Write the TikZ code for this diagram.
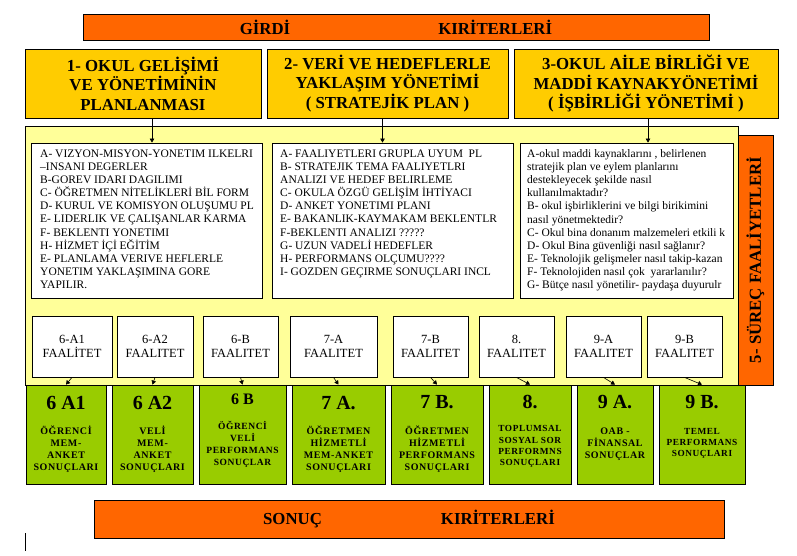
\documentclass[tikz,border=0pt]{standalone}
\usepackage{fontspec}
\setmainfont{Liberation Serif}
\newfontfamily\krserif{Liberation Serif}
\newfontfamily\widebf[LetterSpace=6]{Liberation Serif}
\usetikzlibrary{
  positioning,
  arrows.meta
}
\definecolor{krOrange}{HTML}{FF6600}
\definecolor{krGold}{HTML}{FFCC00}
\definecolor{krPale}{HTML}{FFFF99}
\definecolor{krGreen}{HTML}{99CC00}

\begin{document}
\begin{tikzpicture}[x=1pt, y=-1pt,
  every node/.style={inner sep=0pt, align=center},
  band/.style={
    rectangle, draw=black, fill=krOrange, line width=0.8pt,
    font=\krserif\fontsize{16.8}{19}\selectfont\bfseries
  },
  topic/.style={
    rectangle, draw=black, fill=krGold, line width=0.8pt,
    minimum height=69pt, font=\krserif\fontsize{16.8}{19.5}\selectfont\bfseries
  },
  listbox/.style={
    rectangle, draw=black, fill=white, line width=0.8pt,
    minimum height=155pt
  },
  listtext/.style={anchor=north west, align=left, font=\krserif\fontsize{11.5}{13.15}\selectfont},
  activity/.style={
    rectangle, draw=black, fill=white, line width=0.8pt,
    minimum height=61pt, font=\krserif\fontsize{12.5}{13.5}\selectfont
  },
  result/.style={
    rectangle, draw=black, fill=krGreen, line width=0.8pt,
    minimum height=99pt
  },
  restitle/.style={font=\krserif\fontsize{20}{22}\selectfont\bfseries},
  resnote/.style={font=\widebf\fontsize{10}{12}\selectfont\bfseries},
  arrow/.style={-{Triangle[length=4pt, width=4.5pt]}, line width=0.6pt}
]
 \useasboundingbox (0,0) rectangle (797,555);

 % Input criteria
 \node[band, minimum width=626pt, minimum height=26pt] (girdi) at (396,27)
   {GİRDİ\hspace{148pt}KIRİTERLERİ};

 \node[topic, minimum width=236pt] (t1) at (143,83.5)
   {1- OKUL GELİŞİMİ\\VE YÖNETİMİNİN\\PLANLANMASI};
 \node[topic, minimum width=241pt] (t2) at (387.5,83.5)
   {2- VERİ VE HEDEFLERLE\\YAKLAŞIM YÖNETİMİ\\( STRATEJİK PLAN )};
 \node[topic, minimum width=264pt] (t3) at (646,83.5)
   {3-OKUL AİLE BİRLİĞİ VE\\MADDİ KAYNAKYÖNETİMİ\\( İŞBİRLİĞİ YÖNETİMİ )};

 % Process panel
 \node[rectangle, draw=black, fill=krPale, line width=0.8pt,
   minimum width=713pt, minimum height=259pt] (panel) at (381.5,255.5) {};
 \node[band, rotate=90, minimum width=250pt, minimum height=35pt] (surec) at (755.5,260)
   {5- SÜREÇ FAALİYETLERİ};

 \node[listbox, minimum width=231pt] (lbA) at (146.5,220.5) {};
 \node[listbox, minimum width=241pt] (lbB) at (392.5,220.5) {};
 \node[listbox, minimum width=213pt] (lbC) at (626.5,220.5) {};

 \node[listtext] (ltA) at (40,149.4) {A- VIZYON-MISYON-YONETIM ILKELRI\\
   –INSANI DEGERLER\\B-GOREV IDARI DAGILIMI\\C- ÖĞRETMEN NİTELİKLERİ BİL FORM\\
   D- KURUL VE KOMISYON OLUŞUMU PL\\E- LIDERLIK VE ÇALIŞANLAR KARMA\\
   F- BEKLENTI YONETIMI\\H- HİZMET İÇİ EĞİTİM\\E- PLANLAMA VERIVE HEFLERLE\\
   YONETIM YAKLAŞIMINA GORE\\YAPILIR.};
 \node[listtext] (ltB) at (280,149.4) {A- FAALIYETLERI GRUPLA UYUM~ PL\\
   B- STRATEJIK TEMA FAALIYETLRI\\ANALIZI VE HEDEF BELIRLEME\\
   C- OKULA ÖZGÜ GELİŞİM İHTİYACI\\D- ANKET YONETIMI PLANI\\
   E- BAKANLIK-KAYMAKAM BEKLENTLR\\F-BEKLENTI ANALIZI ?????\\
   G- UZUN VADELİ HEDEFLER\\H- PERFORMANS OLÇUMU????\\
   I- GOZDEN GEÇIRME SONUÇLARI INCL};
 \node[listtext] (ltC) at (527,149.1) {A-okul maddi kaynaklarını , belirlenen\\
   stratejik plan ve eylem planlarını\\destekleyecek şekilde nasıl\\
   kullanılmaktadır?\\B- okul işbirliklerini ve bilgi birikimini\\
   nasıl yönetmektedir?\\C- Okul bina donanım malzemeleri etkili k\\
   D- Okul Bina güvenliği nasıl sağlanır?\\E- Teknolojik gelişmeler nasıl takip-kazan\\
   F- Teknolojiden nasıl çok~ yararlanılır?\\G- Bütçe nasıl yönetilir- paydaşa duyurulr};

 \draw[arrow] ([xshift=9pt]t1.south) -- ([xshift=9pt]t1.south |- lbA.north);
 \draw[arrow] ([xshift=-5pt]t2.south) -- ([xshift=-5pt]t2.south |- lbB.north);
 \draw[arrow] ([xshift=2pt]t3.south) -- ([xshift=2pt]t3.south |- lbC.north);

 % Activities
 \node[activity, minimum width=80pt] (f1) at (72,346.5)    {6-A1\\FAALİTET};
 \node[activity, minimum width=76pt] (f2) at (155,346.5)   {6-A2\\FAALITET};
 \node[activity, minimum width=75pt] (f3) at (240.5,346.5) {6-B\\FAALITET};
 \node[activity, minimum width=87pt] (f4) at (333.5,346.5) {7-A\\FAALITET};
 \node[activity, minimum width=75pt] (f5) at (430.5,346.5) {7-B\\FAALITET};
 \node[activity, minimum width=75pt] (f6) at (516.5,346.5) {8.\\FAALITET};
 \node[activity, minimum width=75pt] (f7) at (603.5,346.5) {9-A\\FAALITET};
 \node[activity, minimum width=75pt] (f8) at (684.5,346.5) {9-B\\FAALITET};

 % Results (left to right)
 \node[result, minimum width=80pt]                   (g1) at (66,434.5) {};
 \node[result, minimum width=81pt, right=5.2pt of g1] (g2) {};
 \node[result, minimum width=87pt, right=5.2pt of g2] (g3) {};
 \node[result, minimum width=93pt, right=5.2pt of g3] (g4) {};
 \node[result, minimum width=92pt, right=5.2pt of g4] (g5) {};
 \node[result, minimum width=82pt, right=5.2pt of g5] (g6) {};
 \node[result, minimum width=76pt, right=5.2pt of g6] (g7) {};
 \node[result, minimum width=86pt, right=5.2pt of g7] (g8) {};

 \node[restitle] (g1t) at ([yshift=-18pt]g1.north) {6 A1};
 \node[restitle] (g2t) at ([yshift=-18pt]g2.north) {6 A2};
 \node[restitle, font=\krserif\fontsize{16}{18}\selectfont\bfseries] (g3t) at ([yshift=-15pt]g3.north) {6 B};
 \node[restitle] (g4t) at ([yshift=-18pt]g4.north) {7 A.};
 \node[restitle] (g5t) at ([yshift=-17pt]g5.north) {7 B.};
 \node[restitle] (g6t) at ([yshift=-17pt]g6.north) {8.};
 \node[restitle] (g7t) at ([yshift=-17pt]g7.north) {9 A.};
 \node[restitle] (g8t) at ([yshift=-17pt]g8.north) {9 B.};

 \node[resnote] (g1s) at ([yshift=-65pt]g1.north) {ÖĞRENCİ\\MEM-\\ANKET\\SONUÇLARI};
 \node[resnote] (g2s) at ([yshift=-65pt]g2.north) {VELİ\\MEM-\\ANKET\\SONUÇLARI};
 \node[resnote, font=\widebf\fontsize{9.5}{12}\selectfont\bfseries] (g3s) at ([yshift=-60pt]g3.north)
   {ÖĞRENCİ\\VELİ\\PERFORMANS\\SONUÇLAR};
 \node[resnote] (g4s) at ([yshift=-65pt]g4.north) {ÖĞRETMEN\\HİZMETLİ\\MEM-ANKET\\SONUÇLARI};
 \node[resnote] (g5s) at ([yshift=-64.5pt]g5.north) {ÖĞRETMEN\\HİZMETLİ\\PERFORMANS\\SONUÇLARI};
 \node[resnote, font=\widebf\fontsize{9.3}{11.3}\selectfont\bfseries] (g6s) at ([yshift=-62pt]g6.north)
   {TOPLUMSAL\\SOSYAL SOR\\PERFORMNS\\SONUÇLARI};
 \node[resnote] (g7s) at ([yshift=-60pt]g7.north) {OAB -\\FİNANSAL\\SONUÇLAR};
 \node[resnote, font=\widebf\fontsize{9.3}{11}\selectfont\bfseries] (g8s) at ([yshift=-59pt]g8.north)
   {TEMEL\\PERFORMANS\\SONUÇLARI};

 \draw[arrow] (f1.south) -- (g1.north); \draw[arrow] (f2.south) -- (g2.north);
 \draw[arrow] (f3.south) -- (g3.north); \draw[arrow] (f4.south) -- (g4.north);
 \draw[arrow] (f5.south) -- (g5.north); \draw[arrow] (f6.south) -- (g6.north);
 \draw[arrow] (f7.south) -- (g7.north); \draw[arrow] (f8.south) -- (g8.north);

 % Output criteria
 \node[band, minimum width=630pt, minimum height=38pt] (sonuc) at (409,519)
   {SONUÇ\hspace{119pt}KIRİTERLERİ};

 \draw[line width=1.2pt] (25.5,533) -- (25.5,551);
\end{tikzpicture}
\end{document}
